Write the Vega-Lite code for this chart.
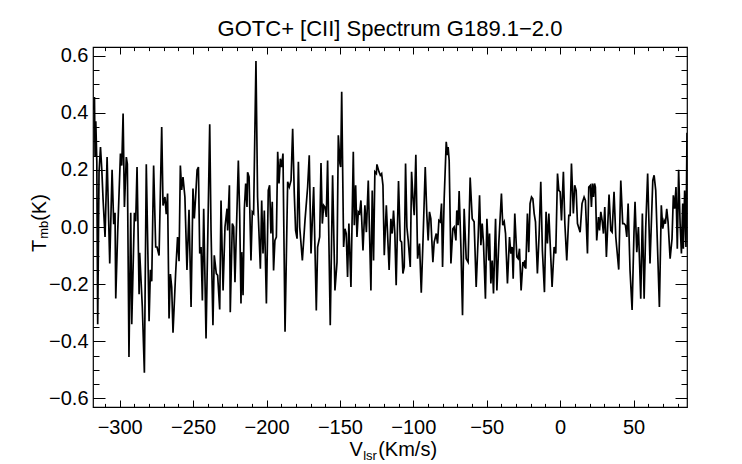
{
  "$schema": "https://vega.github.io/schema/vega-lite/v6.json",
  "width": 594,
  "height": 360,
  "autosize": "none",
  "padding": {"left": 93, "top": 47, "right": 55, "bottom": 57},
  "background": "white",
  "title": {
    "text": "GOTC+ [CII] Spectrum G189.1−2.0",
    "font": "Liberation Sans",
    "fontSize": 22,
    "fontWeight": "normal",
    "color": "black",
    "anchor": "middle",
    "offset": 5
  },
  "config": {
    "view": {"stroke": "black", "strokeWidth": 1.2},
    "axis": {
      "domain": false,
      "grid": false,
      "labelFont": "Liberation Sans",
      "labelFontSize": 20,
      "labelColor": "black",
      "labelFlush": false,
      "labelOverlap": false,
      "labelBound": false,
      "tickColor": "black",
      "tickWidth": 1,
      "titleFont": "Liberation Sans",
      "titleFontSize": 20,
      "titleFontWeight": "normal",
      "titleColor": "black",
      "titleBaseline": "alphabetic",
      "titlePadding": 0
    }
  },
  "data": {
    "values": [
      {"v": -317.7, "t": 0.41}, {"v": -317.2, "t": 0.455}, {"v": -316.8, "t": 0.245}, {"v": -316.3, "t": 0.37},
      {"v": -315.6, "t": 0.23}, {"v": -315.0, "t": -0.34}, {"v": -314.1, "t": 0.19}, {"v": -313.1, "t": 0.28},
      {"v": -312.2, "t": 0.2}, {"v": -311.3, "t": 0.093}, {"v": -310.0, "t": -0.035}, {"v": -308.6, "t": 0.245},
      {"v": -306.8, "t": -0.128}, {"v": -305.2, "t": 0.2}, {"v": -304.1, "t": 0.01}, {"v": -303.2, "t": 0.05},
      {"v": -302.7, "t": -0.25}, {"v": -301.4, "t": -0.02}, {"v": -299.5, "t": 0.257}, {"v": -298.6, "t": 0.215},
      {"v": -297.7, "t": 0.397}, {"v": -296.8, "t": 0.07}, {"v": -295.5, "t": 0.245}, {"v": -294.8, "t": 0.22},
      {"v": -293.7, "t": -0.455}, {"v": -292.5, "t": 0.05}, {"v": -291.8, "t": -0.34}, {"v": -290.0, "t": 0.05},
      {"v": -289.1, "t": 0.02}, {"v": -288.2, "t": 0.21}, {"v": -286.8, "t": -0.235}, {"v": -286.4, "t": -0.09},
      {"v": -284.6, "t": -0.28}, {"v": -283.2, "t": -0.51}, {"v": -281.9, "t": 0.22}, {"v": -280.0, "t": -0.33},
      {"v": -279.1, "t": -0.15}, {"v": -278.2, "t": -0.19}, {"v": -276.9, "t": 0.215}, {"v": -275.5, "t": -0.07},
      {"v": -274.6, "t": -0.07}, {"v": -273.2, "t": -0.1}, {"v": -271.4, "t": 0.35}, {"v": -270.5, "t": 0.075},
      {"v": -269.2, "t": 0.105}, {"v": -268.3, "t": 0.045}, {"v": -267.4, "t": 0.117}, {"v": -266.4, "t": -0.32},
      {"v": -265.5, "t": -0.165}, {"v": -264.6, "t": -0.21}, {"v": -263.7, "t": -0.37}, {"v": -261.9, "t": -0.16},
      {"v": -260.6, "t": -0.035}, {"v": -259.6, "t": -0.12}, {"v": -258.7, "t": 0.215}, {"v": -257.8, "t": 0.13},
      {"v": -256.9, "t": 0.175}, {"v": -255.6, "t": 0.105}, {"v": -254.2, "t": -0.15}, {"v": -252.8, "t": 0.06},
      {"v": -251.4, "t": -0.28}, {"v": -250.1, "t": 0.135}, {"v": -249.2, "t": 0.03}, {"v": -248.3, "t": 0.105},
      {"v": -247.3, "t": 0.2}, {"v": -246.4, "t": 0.21}, {"v": -245.5, "t": -0.093}, {"v": -244.6, "t": -0.07},
      {"v": -243.7, "t": -0.257}, {"v": -242.8, "t": 0.064}, {"v": -241.2, "t": -0.39}, {"v": -238.7, "t": 0.36},
      {"v": -237.8, "t": -0.012}, {"v": -236.5, "t": -0.344}, {"v": -235.6, "t": -0.099}, {"v": -234.2, "t": -0.163},
      {"v": -233.3, "t": -0.169}, {"v": -231.9, "t": -0.289}, {"v": -231.0, "t": 0.093}, {"v": -229.6, "t": -0.222},
      {"v": -228.3, "t": 0.0}, {"v": -226.9, "t": 0.064}, {"v": -226.5, "t": -0.012}, {"v": -225.3, "t": 0.146},
      {"v": -224.7, "t": -0.298}, {"v": -223.3, "t": 0.012}, {"v": -222.4, "t": 0.0}, {"v": -221.5, "t": -0.193},
      {"v": -219.2, "t": 0.233}, {"v": -218.3, "t": 0.047}, {"v": -217.4, "t": -0.268}, {"v": -216.9, "t": -0.088},
      {"v": -216.0, "t": -0.239}, {"v": -215.1, "t": 0.064}, {"v": -214.2, "t": 0.152}, {"v": -213.3, "t": 0.07},
      {"v": -212.9, "t": 0.192}, {"v": -211.9, "t": 0.175}, {"v": -210.6, "t": -0.117}, {"v": -209.7, "t": 0.053},
      {"v": -208.8, "t": 0.047}, {"v": -207.2, "t": 0.581}, {"v": -206.1, "t": 0.105}, {"v": -204.2, "t": -0.146},
      {"v": -203.3, "t": 0.093}, {"v": -202.4, "t": -0.093}, {"v": -201.5, "t": 0.058}, {"v": -200.1, "t": -0.268},
      {"v": -198.8, "t": 0.128}, {"v": -197.9, "t": 0.146}, {"v": -197.0, "t": -0.023}, {"v": -196.1, "t": 0.088},
      {"v": -195.2, "t": -0.152}, {"v": -194.3, "t": -0.047}, {"v": -193.3, "t": -0.035}, {"v": -192.4, "t": 0.263},
      {"v": -191.5, "t": 0.152}, {"v": -190.6, "t": 0.239}, {"v": -189.7, "t": 0.21}, {"v": -188.8, "t": 0.257},
      {"v": -187.4, "t": -0.367}, {"v": -185.6, "t": 0.158}, {"v": -184.5, "t": 0.14}, {"v": -183.3, "t": 0.163},
      {"v": -182.2, "t": 0.344}, {"v": -181.1, "t": 0.117}, {"v": -180.2, "t": -0.012}, {"v": -179.2, "t": -0.041},
      {"v": -178.3, "t": 0.228}, {"v": -177.4, "t": 0.0}, {"v": -175.6, "t": -0.117}, {"v": -173.8, "t": 0.023},
      {"v": -172.0, "t": 0.14}, {"v": -170.9, "t": 0.251}, {"v": -169.7, "t": -0.093}, {"v": -167.9, "t": 0.14},
      {"v": -166.1, "t": -0.292}, {"v": -165.2, "t": -0.07}, {"v": -163.8, "t": -0.035}, {"v": -162.9, "t": 0.224},
      {"v": -162.0, "t": 0.012}, {"v": -161.1, "t": 0.076}, {"v": -160.2, "t": 0.07}, {"v": -159.3, "t": 0.035},
      {"v": -158.4, "t": 0.233}, {"v": -156.6, "t": -0.344}, {"v": -155.0, "t": 0.181}, {"v": -153.4, "t": -0.222},
      {"v": -152.0, "t": -0.123}, {"v": -151.1, "t": 0.321}, {"v": -150.0, "t": 0.222}, {"v": -149.5, "t": 0.21},
      {"v": -148.8, "t": 0.473}, {"v": -147.5, "t": -0.07}, {"v": -146.6, "t": -0.006}, {"v": -145.7, "t": -0.023},
      {"v": -144.8, "t": -0.175}, {"v": -143.9, "t": 0.012}, {"v": -142.5, "t": -0.21}, {"v": -140.9, "t": 0.263},
      {"v": -140.2, "t": 0.006}, {"v": -139.3, "t": 0.146}, {"v": -138.4, "t": -0.035}, {"v": -137.5, "t": 0.053},
      {"v": -136.6, "t": 0.047}, {"v": -135.7, "t": 0.093}, {"v": -134.3, "t": -0.082}, {"v": -133.0, "t": 0.076},
      {"v": -132.0, "t": -0.018}, {"v": -130.7, "t": 0.163}, {"v": -128.9, "t": -0.222}, {"v": -128.0, "t": 0.128},
      {"v": -127.1, "t": -0.117}, {"v": -126.2, "t": 0.193}, {"v": -125.2, "t": 0.187}, {"v": -124.8, "t": 0.219},
      {"v": -123.4, "t": 0.193}, {"v": -122.5, "t": 0.181}, {"v": -121.6, "t": 0.187}, {"v": -120.7, "t": 0.146},
      {"v": -119.8, "t": -0.099}, {"v": -118.4, "t": 0.076}, {"v": -116.5, "t": -0.15}, {"v": -115.3, "t": 0.029},
      {"v": -114.4, "t": -0.023}, {"v": -113.5, "t": 0.058}, {"v": -112.6, "t": -0.023}, {"v": -111.7, "t": -0.204},
      {"v": -110.1, "t": 0.161}, {"v": -108.9, "t": -0.047}, {"v": -108.0, "t": -0.053}, {"v": -107.1, "t": -0.163},
      {"v": -106.2, "t": -0.14}, {"v": -105.3, "t": 0.222}, {"v": -104.4, "t": 0.0}, {"v": -103.5, "t": -0.047},
      {"v": -102.1, "t": -0.14}, {"v": -101.2, "t": 0.193}, {"v": -100.3, "t": 0.105}, {"v": -99.4, "t": 0.041},
      {"v": -98.3, "t": 0.253}, {"v": -97.1, "t": -0.111}, {"v": -95.8, "t": -0.058}, {"v": -94.6, "t": -0.23},
      {"v": -93.3, "t": -0.029}, {"v": -91.9, "t": 0.21}, {"v": -90.8, "t": 0.041}, {"v": -89.9, "t": -0.047},
      {"v": -89.0, "t": 0.053}, {"v": -88.1, "t": 0.029}, {"v": -86.7, "t": -0.123}, {"v": -85.8, "t": -0.053},
      {"v": -84.4, "t": -0.023}, {"v": -83.5, "t": -0.058}, {"v": -82.6, "t": 0.023}, {"v": -81.7, "t": 0.018},
      {"v": -80.8, "t": 0.082}, {"v": -80.1, "t": -0.14}, {"v": -79.0, "t": 0.099}, {"v": -77.6, "t": 0.298},
      {"v": -76.7, "t": 0.251}, {"v": -76.3, "t": 0.28}, {"v": -75.6, "t": 0.233}, {"v": -74.4, "t": -0.128},
      {"v": -73.1, "t": -0.006}, {"v": -72.2, "t": 0.0}, {"v": -71.0, "t": -0.047}, {"v": -70.4, "t": 0.058},
      {"v": -69.5, "t": 0.006}, {"v": -68.8, "t": 0.126}, {"v": -67.6, "t": -0.07}, {"v": -66.5, "t": -0.309},
      {"v": -65.4, "t": 0.064}, {"v": -64.0, "t": -0.111}, {"v": -62.7, "t": -0.123}, {"v": -61.3, "t": 0.173},
      {"v": -59.9, "t": 0.029}, {"v": -58.6, "t": 0.018}, {"v": -57.2, "t": -0.21}, {"v": -55.8, "t": -0.029},
      {"v": -54.9, "t": 0.111}, {"v": -54.0, "t": -0.064}, {"v": -53.1, "t": 0.012}, {"v": -52.2, "t": -0.058},
      {"v": -50.9, "t": -0.251}, {"v": -49.9, "t": 0.029}, {"v": -48.6, "t": -0.117}, {"v": -48.1, "t": -0.023},
      {"v": -47.2, "t": -0.198}, {"v": -46.3, "t": -0.117}, {"v": -45.4, "t": -0.233}, {"v": -44.0, "t": 0.029},
      {"v": -43.1, "t": -0.222}, {"v": -41.8, "t": -0.058}, {"v": -40.0, "t": 0.117}, {"v": -39.1, "t": 0.006},
      {"v": -38.1, "t": 0.018}, {"v": -37.2, "t": -0.023}, {"v": -35.9, "t": -0.198}, {"v": -34.5, "t": -0.035},
      {"v": -33.6, "t": -0.093}, {"v": -32.7, "t": -0.07}, {"v": -32.0, "t": -0.181}, {"v": -30.9, "t": 0.047},
      {"v": -29.5, "t": -0.105}, {"v": -28.6, "t": -0.111}, {"v": -27.7, "t": -0.076}, {"v": -26.6, "t": -0.222},
      {"v": -25.4, "t": -0.123}, {"v": -24.5, "t": -0.134}, {"v": -24.1, "t": -0.117}, {"v": -23.4, "t": -0.146},
      {"v": -22.3, "t": 0.047}, {"v": -21.4, "t": -0.088}, {"v": -20.5, "t": 0.082}, {"v": -19.5, "t": 0.105},
      {"v": -18.6, "t": 0.099}, {"v": -17.7, "t": 0.047}, {"v": -16.8, "t": 0.018}, {"v": -15.5, "t": -0.163},
      {"v": -14.3, "t": -0.023}, {"v": -13.2, "t": 0.158}, {"v": -12.1, "t": -0.082}, {"v": -10.7, "t": -0.228},
      {"v": -9.6, "t": 0.053}, {"v": -8.7, "t": -0.058}, {"v": -7.7, "t": 0.047}, {"v": -5.5, "t": -0.21},
      {"v": -4.1, "t": -0.07}, {"v": -3.0, "t": -0.093}, {"v": -1.8, "t": 0.187}, {"v": -0.9, "t": 0.128},
      {"v": 0.0, "t": 0.123}, {"v": 0.9, "t": 0.023}, {"v": 2.2, "t": 0.193}, {"v": 3.2, "t": 0.012},
      {"v": 4.5, "t": -0.117}, {"v": 5.9, "t": 0.041}, {"v": 6.8, "t": 0.041}, {"v": 7.7, "t": 0.222},
      {"v": 9.0, "t": 0.047}, {"v": 9.9, "t": 0.146}, {"v": 10.9, "t": 0.128}, {"v": 11.8, "t": 0.012},
      {"v": 13.6, "t": -0.018}, {"v": 14.9, "t": 0.082}, {"v": 16.3, "t": 0.105}, {"v": 17.2, "t": 0.093},
      {"v": 18.6, "t": -0.093}, {"v": 19.5, "t": 0.14}, {"v": 20.6, "t": 0.146}, {"v": 21.3, "t": 0.07},
      {"v": 22.0, "t": 0.152}, {"v": 22.7, "t": 0.105}, {"v": 23.4, "t": 0.152}, {"v": 24.0, "t": 0.14},
      {"v": 24.9, "t": -0.047}, {"v": 26.1, "t": 0.035}, {"v": 26.8, "t": -0.012}, {"v": 27.7, "t": 0.053},
      {"v": 28.6, "t": 0.023}, {"v": 29.5, "t": -0.023}, {"v": 30.4, "t": 0.07}, {"v": 31.5, "t": -0.105},
      {"v": 33.3, "t": 0.114}, {"v": 34.5, "t": -0.012}, {"v": 35.4, "t": -0.018}, {"v": 36.7, "t": 0.123},
      {"v": 37.9, "t": -0.035}, {"v": 38.5, "t": -0.07}, {"v": 39.9, "t": -0.149}, {"v": 41.3, "t": 0.163},
      {"v": 42.6, "t": 0.012}, {"v": 43.5, "t": 0.012}, {"v": 44.5, "t": 0.006}, {"v": 45.4, "t": -0.035},
      {"v": 46.3, "t": 0.082}, {"v": 47.6, "t": -0.152}, {"v": 49.0, "t": -0.29}, {"v": 50.3, "t": -0.018},
      {"v": 51.0, "t": 0.088}, {"v": 52.2, "t": -0.088}, {"v": 53.3, "t": 0.0}, {"v": 54.9, "t": -0.251},
      {"v": 56.0, "t": 0.047}, {"v": 57.2, "t": -0.251}, {"v": 58.3, "t": 0.0}, {"v": 59.6, "t": 0.187},
      {"v": 61.2, "t": -0.128}, {"v": 63.1, "t": 0.163}, {"v": 64.0, "t": 0.181}, {"v": 65.1, "t": 0.128},
      {"v": 67.6, "t": -0.28}, {"v": 68.9, "t": 0.076}, {"v": 69.9, "t": -0.006}, {"v": 70.8, "t": 0.023},
      {"v": 71.7, "t": 0.012}, {"v": 72.6, "t": 0.064}, {"v": 73.5, "t": 0.018}, {"v": 74.9, "t": -0.111},
      {"v": 76.2, "t": -0.041}, {"v": 77.1, "t": 0.111}, {"v": 78.0, "t": 0.064}, {"v": 78.9, "t": 0.14},
      {"v": 79.8, "t": -0.076}, {"v": 80.7, "t": 0.2}, {"v": 81.7, "t": 0.012}, {"v": 82.6, "t": -0.093},
      {"v": 83.5, "t": 0.082}, {"v": 83.9, "t": -0.076}, {"v": 84.8, "t": 0.128}, {"v": 85.7, "t": -0.07},
      {"v": 86.4, "t": 0.33}
    ]
  },
  "layer": [
    {
      "mark": {"type": "line", "color": "black", "strokeWidth": 1.7, "clip": true},
      "encoding": {
        "x": {
          "field": "v", "type": "quantitative",
          "scale": {"domain": [-318.2, 86.4], "nice": false, "zero": false},
          "axis": {
            "orient": "bottom", "values": [-300, -250, -200, -150, -100, -50, 0, 50],
            "format": "d", "tickSize": -7, "labelPadding": 17,
            "title": "V", "titleX": 262.7, "titleY": 48, "titleAlign": "center"
          }
        },
        "y": {
          "field": "t", "type": "quantitative",
          "scale": {"domain": [-0.63, 0.63], "nice": false, "zero": false},
          "axis": {
            "orient": "left", "values": [-0.6, -0.4, -0.2, 0, 0.2, 0.4, 0.6],
            "format": ".1f", "tickSize": -12, "labelPadding": 17,
            "title": "T", "titleX": -48, "titleY": 198.3, "titleAlign": "center", "titleAngle": 270
          }
        }
      }
    },
    {
      "mark": {"type": "line", "strokeOpacity": 0},
      "encoding": {
        "x": {
          "field": "v", "type": "quantitative",
          "scale": {"domain": [-318.2, 86.4], "nice": false, "zero": false},
          "axis": {
            "orient": "top", "values": [-300, -250, -200, -150, -100, -50, 0, 50],
            "labels": false, "tickSize": -7,
            "title": "(Km/s)", "titleX": 284.7, "titleY": 408, "titleAlign": "left"
          }
        },
        "y": {
          "field": "t", "type": "quantitative",
          "scale": {"domain": [-0.63, 0.63], "nice": false, "zero": false},
          "axis": {
            "orient": "right", "values": [-0.6, -0.4, -0.2, 0, 0.2, 0.4, 0.6],
            "labels": false, "tickSize": -12,
            "title": "(K)", "titleX": -642, "titleY": 160, "titleAlign": "center", "titleAngle": 270
          }
        }
      }
    },
    {
      "mark": {"type": "line", "strokeOpacity": 0},
      "encoding": {
        "x": {
          "field": "v", "type": "quantitative",
          "scale": {"domain": [-318.2, 86.4], "nice": false, "zero": false},
          "axis": {
            "orient": "bottom",
            "values": [-310, -300, -290, -280, -270, -260, -250, -240, -230, -220, -210, -200, -190, -180, -170, -160, -150, -140, -130, -120, -110, -100, -90, -80, -70, -60, -50, -40, -30, -20, -10, 0, 10, 20, 30, 40, 50, 60, 70, 80],
            "labels": false, "tickSize": -3.6,
            "title": "lsr", "titleFontSize": 13, "titleX": 269.7, "titleY": 52, "titleAlign": "left"
          }
        },
        "y": {
          "field": "t", "type": "quantitative",
          "scale": {"domain": [-0.63, 0.63], "nice": false, "zero": false},
          "axis": {
            "orient": "left",
            "values": [-0.6, -0.55, -0.5, -0.45, -0.4, -0.35, -0.3, -0.25, -0.2, -0.15, -0.1, -0.05, 0, 0.05, 0.1, 0.15, 0.2, 0.25, 0.3, 0.35, 0.4, 0.45, 0.5, 0.55, 0.6],
            "labels": false, "tickSize": -6,
            "title": "mb", "titleFontSize": 13, "titleX": -46, "titleY": 182.3, "titleAlign": "center", "titleAngle": 270
          }
        }
      }
    },
    {
      "mark": {"type": "line", "strokeOpacity": 0},
      "encoding": {
        "x": {
          "field": "v", "type": "quantitative",
          "scale": {"domain": [-318.2, 86.4], "nice": false, "zero": false},
          "axis": {
            "orient": "top",
            "values": [-310, -300, -290, -280, -270, -260, -250, -240, -230, -220, -210, -200, -190, -180, -170, -160, -150, -140, -130, -120, -110, -100, -90, -80, -70, -60, -50, -40, -30, -20, -10, 0, 10, 20, 30, 40, 50, 60, 70, 80],
            "labels": false, "tickSize": -3.6, "title": null
          }
        },
        "y": {
          "field": "t", "type": "quantitative",
          "scale": {"domain": [-0.63, 0.63], "nice": false, "zero": false},
          "axis": {
            "orient": "right",
            "values": [-0.6, -0.55, -0.5, -0.45, -0.4, -0.35, -0.3, -0.25, -0.2, -0.15, -0.1, -0.05, 0, 0.05, 0.1, 0.15, 0.2, 0.25, 0.3, 0.35, 0.4, 0.45, 0.5, 0.55, 0.6],
            "labels": false, "tickSize": -6, "title": null
          }
        }
      }
    }
  ],
  "resolve": {"axis": {"x": "independent", "y": "independent"}}
}
